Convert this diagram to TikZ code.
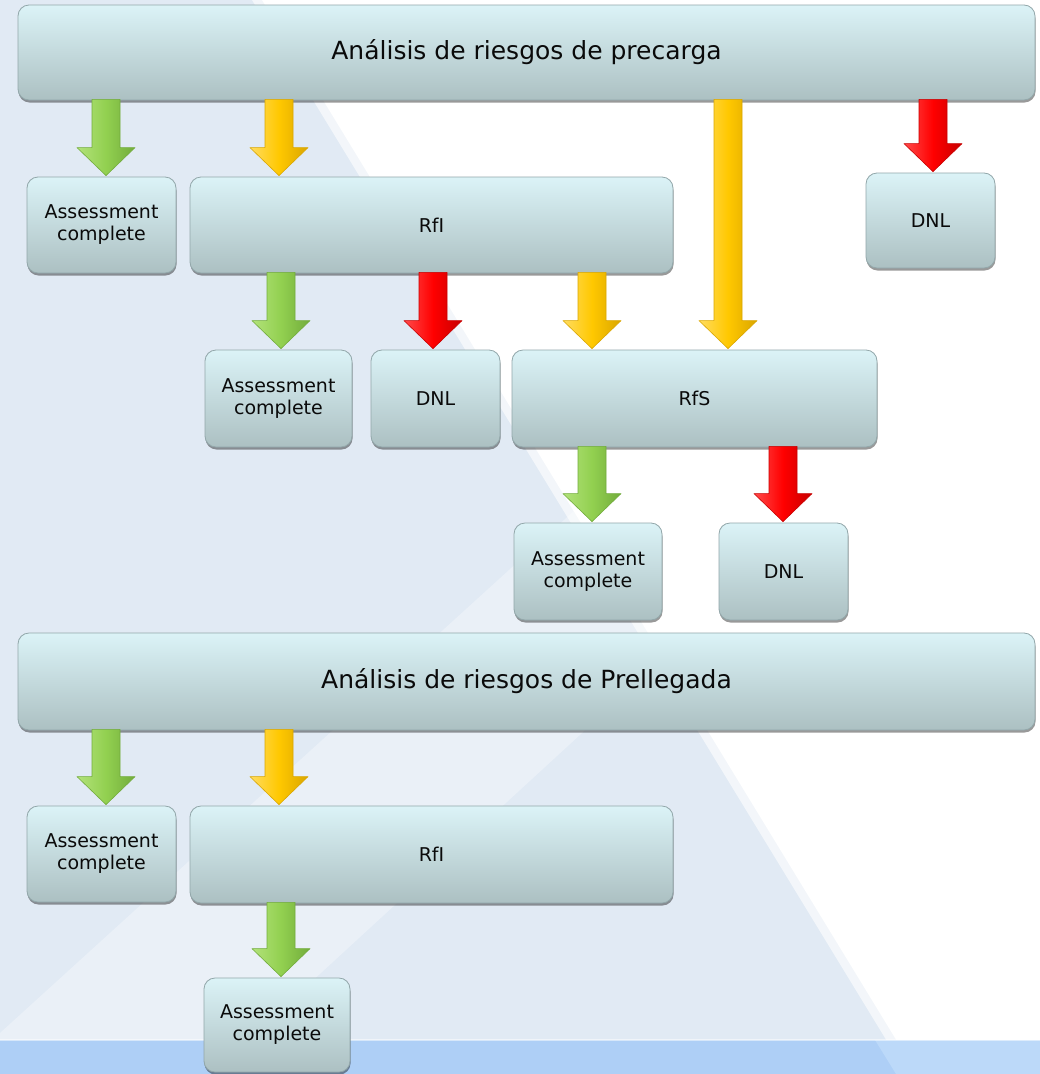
\documentclass[tikz,border=0pt]{standalone}
\usepackage{fontspec}
\setmainfont{DejaVu Sans}
\usetikzlibrary{calc,shadows}
\definecolor{bgblue}{HTML}{E1EAF4}
\definecolor{bandblue}{HTML}{AECFF6}
\definecolor{bandlight}{HTML}{BCD9F9}
\definecolor{boxtop}{HTML}{DBF3F7}
\definecolor{boxbot}{HTML}{ACC0C2}
\definecolor{boxline}{HTML}{92A7AA}
\definecolor{txt}{HTML}{0A0A0A}
\definecolor{glight}{HTML}{B2E27A}
\definecolor{gmain}{HTML}{92D050}
\definecolor{gdark}{HTML}{72AC3C}
\definecolor{ylight}{HTML}{FFDC60}
\definecolor{ymain}{HTML}{FFC800}
\definecolor{ydark}{HTML}{DAA600}
\definecolor{rlight}{HTML}{FF4A4A}
\definecolor{rmain}{HTML}{FF0000}
\definecolor{rdark}{HTML}{C80000}
\newcommand{\barrow}[4]{%
  \path[shade, left color=#1light, right color=#1dark, middle color=#1main, draw=#1dark, line width=0.6pt, line join=round]
    let \p1=(#3.south), \p2=(#4.north) in
    ({#2pt-14pt},{\y1+1pt}) -- ({#2pt+14pt},{\y1+1pt}) -- ({#2pt+14pt},{\y2+29pt}) --
    ({#2pt+29pt},{\y2+29pt}) -- ({#2pt},{\y2+1pt}) -- ({#2pt-29pt},{\y2+29pt}) --
    ({#2pt-14pt},{\y2+29pt}) -- cycle;}
\begin{document}
\begin{tikzpicture}[x=1pt,y=-1pt,
  box/.style={rounded corners=11pt, shade, top color=boxtop, bottom color=boxbot,
    draw=boxline, line width=0.8pt, text=txt, align=center, inner sep=0pt,
    font=\fontsize{19}{22}\selectfont,
    drop shadow={shadow xshift=0.5pt, shadow yshift=-2.5pt, opacity=0.4, fill=black}},
  bar/.style={box, font=\fontsize{25}{29}\selectfont}]
\useasboundingbox (0,0) rectangle (1040,1074);
\begin{scope}
\clip (0,0) rectangle (1040,1074);
\fill[bgblue] (0,0) rectangle (1040,1074);
\fill[white, opacity=0.3] (0,1033) -- (1040,87) -- (1040,312) -- (0,1268) -- cycle;
\fill[white, opacity=0.6] (252,0) -- (1040,0) -- (1040,1074) -- (907,1074) -- cycle;
\fill[white] (262,0) -- (1040,0) -- (1040,1074) -- (917,1074) -- cycle;
\fill[bandblue] (0,1040) rectangle (1040,1074);
\fill[bandlight] (875,1040) -- (1040,1040) -- (1040,1074) -- (896,1074) -- cycle;
\fill[white, opacity=0.5] (0,1039) rectangle (1040,1041);
\end{scope}

% nodes
\node[bar, minimum width=1017, minimum height=95] (barA) at (526.5,52.5) {Análisis de riesgos de precarga};
\node[box, minimum width=149, minimum height=96] (ac1) at (101.5,225) {Assessment\\complete};
\node[box, minimum width=483, minimum height=96] (rfi1) at (431.5,225) {RfI};
\node[box, minimum width=129, minimum height=95] (dnl1) at (930.5,220.5) {DNL};
\node[box, minimum width=147, minimum height=97] (ac2) at (278.5,398.5) {Assessment\\complete};
\node[box, minimum width=129, minimum height=97] (dnl2) at (435.5,398.5) {DNL};
\node[box, minimum width=365, minimum height=97] (rfs) at (694.5,398.5) {RfS};
\node[box, minimum width=148, minimum height=97] (ac3) at (588,571.5) {Assessment\\complete};
\node[box, minimum width=129, minimum height=97] (dnl3) at (783.5,571.5) {DNL};
\node[bar, minimum width=1017, minimum height=97] (barB) at (526.5,681.5) {Análisis de riesgos de Prellegada};
\node[box, minimum width=149, minimum height=96] (ac4) at (101.5,854) {Assessment\\complete};
\node[box, minimum width=483, minimum height=97] (rfi2) at (431.5,854.5) {RfI};
\node[box, minimum width=146, minimum height=94] (ac5) at (277,1025) {Assessment\\complete};

% block arrows
\barrow{g}{106}{barA}{ac1}
\barrow{y}{279}{barA}{rfi1}
\barrow{y}{728}{barA}{rfs}
\barrow{r}{933}{barA}{dnl1}
\barrow{g}{281}{rfi1}{ac2}
\barrow{r}{433}{rfi1}{dnl2}
\barrow{y}{592}{rfi1}{rfs}
\barrow{g}{592}{rfs}{ac3}
\barrow{r}{783}{rfs}{dnl3}
\barrow{g}{106}{barB}{ac4}
\barrow{y}{279}{barB}{rfi2}
\barrow{g}{281}{rfi2}{ac5}
\end{tikzpicture}
\end{document}
